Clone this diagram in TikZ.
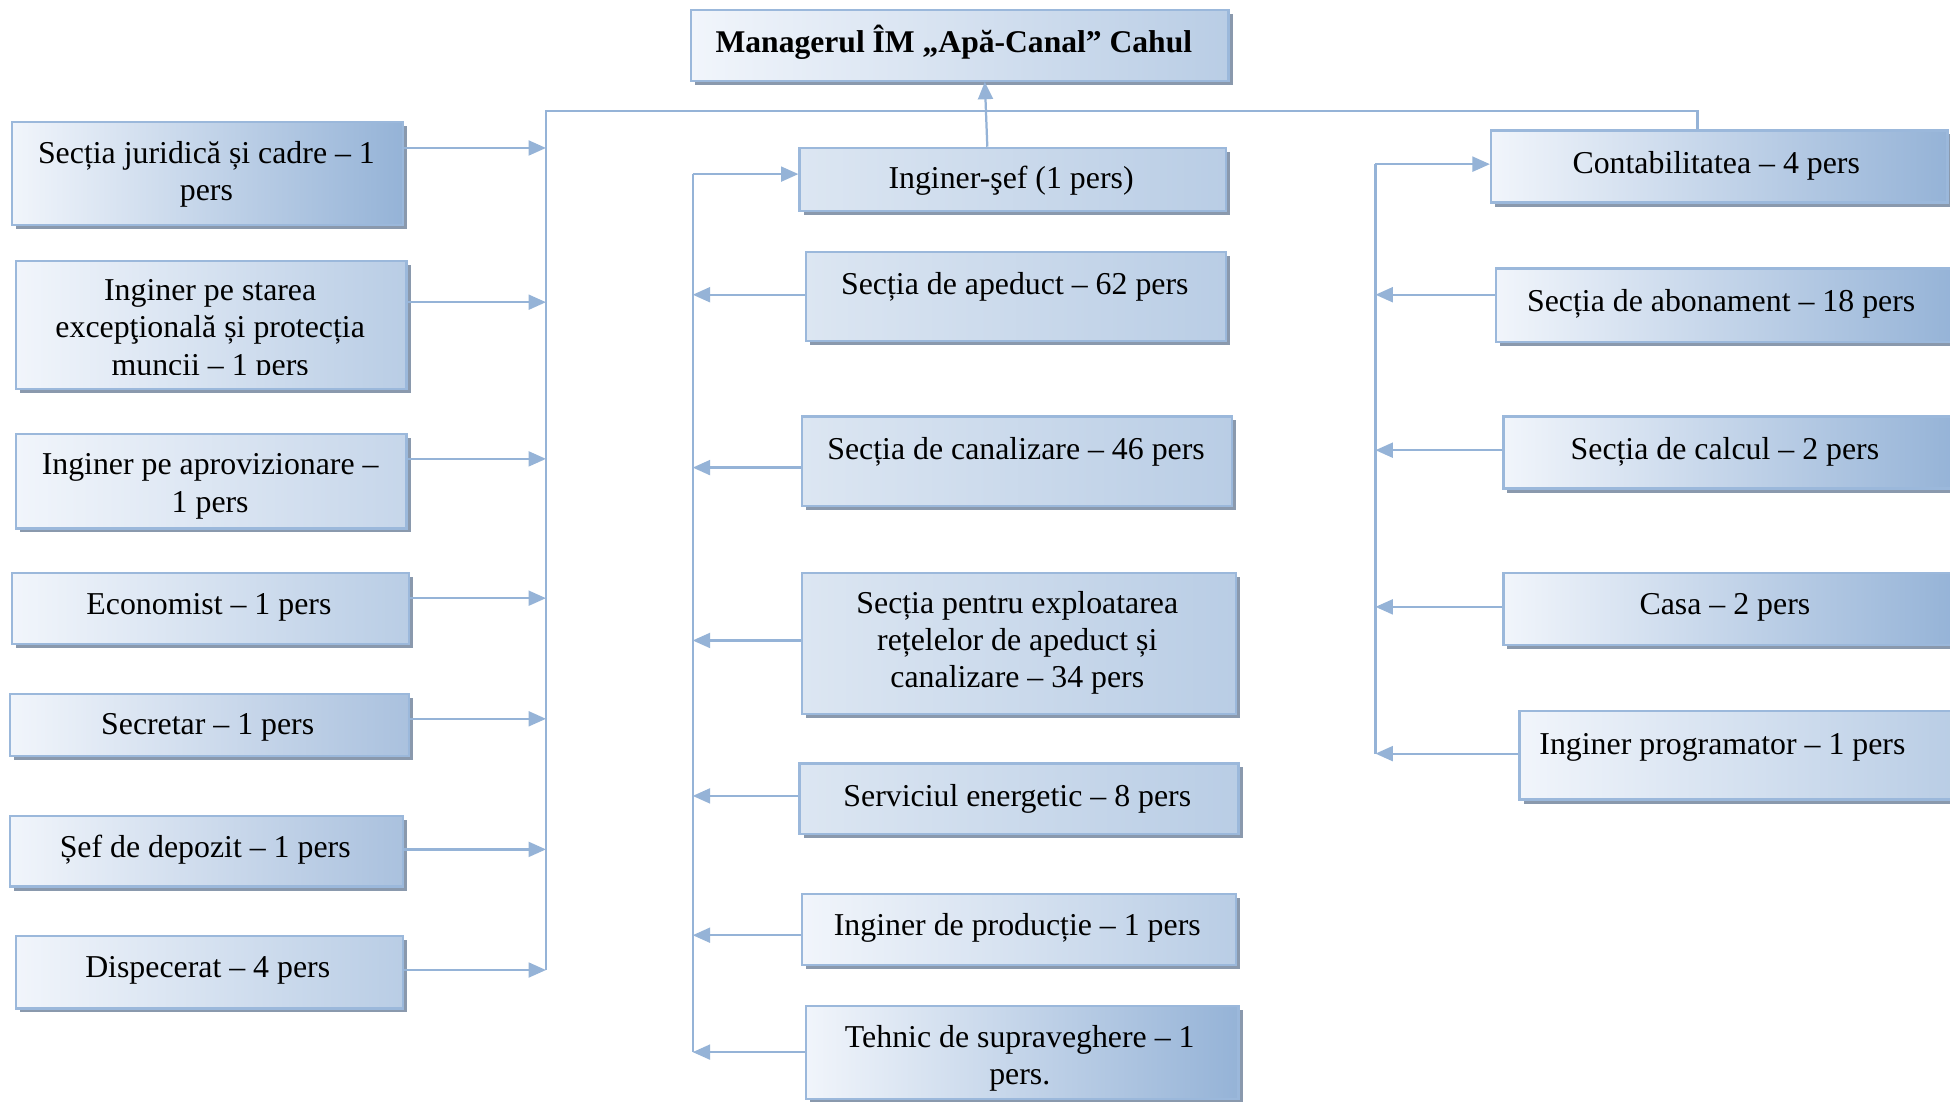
\documentclass[tikz,border=0pt]{standalone}
\usepackage{fontspec}
\setmainfont{Liberation Serif}
\usetikzlibrary{arrows.meta,shadows}
\definecolor{connc}{RGB}{149,179,215}
\definecolor{bordc}{RGB}{155,184,219}
\definecolor{shadc}{RGB}{138,153,173}
\definecolor{boxL}{RGB}{241,245,251}
\definecolor{cD}{RGB}{149,179,215}
\definecolor{cM}{RGB}{170,193,222}
\definecolor{cL}{RGB}{185,205,229}
\definecolor{cLL}{RGB}{198,214,234}
\definecolor{mL}{RGB}{220,230,242}
\newcommand{\obox}[6]{\node[#6, anchor=north west, inner sep=0pt, minimum width={(#4-#2)*0.5pt}, minimum height={(#5-#3)*0.5pt}] (#1) at (#2,#3) {};}
\begin{document}
\begin{tikzpicture}[x=0.5pt,y=-0.5pt,
  conn/.style={draw=connc, line width=0.9pt},
  arr/.style={conn, -{Triangle[length=7pt,width=6pt]}},
  obx/.style={draw=bordc, line width=0.9pt, left color=boxL, right color=#1,
    general shadow={fill=shadc, draw=none, shadow xshift=1.6pt, shadow yshift=-1.6pt}},
  obx/.default=cL,
  txt/.style={inner sep=0pt, align=center, font=\fontsize{12.8}{15}\selectfont},
  ttl/.style={inner sep=0pt, align=center, font=\fontsize{12.7}{15}\selectfont\bfseries}]
\fill[white] (0,0) rectangle (1568,886);
\useasboundingbox (0,0) rectangle (1568,886);

% manager
\obox{MG}{555}{7}{987}{64}{obx=cL}
\node[ttl] (tMG) at (767,34) {Managerul ÎM „Apă-Canal” Cahul};

% left column
\obox{L1}{9}{97}{323}{180}{obx=cD}
\obox{L2}{12}{209}{326}{312}{obx=cL}
\obox{L3}{12}{348}{326}{424}{obx=cLL}
\obox{L4}{9}{460}{328}{517}{obx=cL}
\obox{L5}{7}{557}{328}{607}{obx=cM}
\obox{L6}{7}{655}{323}{712}{obx=cM}
\obox{L7}{12}{752}{323}{810}{obx=cL}
\node[txt] (t1) at (166,140) {Secția juridică și cadre – 1\\pers};
\begin{scope}
\clip (12,209) rectangle (326,301);
\node[txt] (t2) at (169,266) {Inginer pe starea\\excepţională și protecția\\muncii – 1 pers};
\end{scope}
\node[txt] (t3) at (169,391) {Inginer pe aprovizionare –\\1 pers};
\node[txt] (t4) at (168,488) {Economist – 1 pers};
\node[txt] (t5) at (167,585) {Secretar – 1 pers};
\node[txt] (t6) at (165,683) {Șef de depozit – 1 pers};
\node[txt] (t7) at (167,780) {Dispecerat – 4 pers};

% middle column
\obox{IS}{642}{118}{985}{169}{obx=cL, left color=mL}
\obox{M2}{647}{202}{985}{273}{obx=cL, left color=mL}
\obox{M3}{644}{334}{990}{406}{obx=cL, left color=mL}
\obox{M4}{644}{460}{993}{573}{obx=cL, left color=mL}
\obox{M5}{642}{613}{995}{670}{obx=cL, left color=mL}
\obox{M6}{644}{718}{993}{775}{obx=cL}
\obox{M7}{647}{808}{995}{883}{obx=cD}
\node[txt] (tIS) at (813,145) {Inginer-şef (1 pers)};
\node[txt] (tM2) at (816,231) {Secția de apeduct – 62 pers};
\node[txt] (tM3) at (817,363) {Secția de canalizare – 46 pers};
\node[txt] (tM4) at (818,517) {Secția pentru exploatarea\\rețelelor de apeduct și\\canalizare – 34 pers};
\node[txt] (tM5) at (818,642) {Serviciul energetic – 8 pers};
\node[txt] (tM6) at (818,746) {Inginer de producție – 1 pers};
\node[txt] (tM7) at (820,851) {Tehnic de supraveghere – 1\\pers.};

% right column
\obox{R1}{1198}{104}{1565}{162}{obx=cD}
\obox{R2}{1202}{215}{1572}{274}{obx=cD}
\obox{R3}{1208}{334}{1572}{392}{obx=cD}
\obox{R4}{1208}{460}{1572}{518}{obx=cD}
\obox{R5}{1221}{571}{1572}{642}{obx=cL}
\node[txt] (tR1) at (1380,133) {Contabilitatea – 4 pers};
\node[txt] (tR2) at (1384,244) {Secția de abonament – 18 pers};
\node[txt] (tR3) at (1387,363) {Secția de calcul – 2 pers};
\node[txt] (tR4) at (1387,488) {Casa – 2 pers};
\node[txt] (tR5) at (1385,601) {Inginer programator – 1 pers};

% top bus and left spine
\coordinate (lt) at (439,89);
\coordinate (rt) at (1365,89);
\coordinate (lb) at (439,780);
\draw[conn] (R1.north -| rt) -- (rt) -- (lt) -- (lb);
\draw[arr] ([xshift=-10.25pt]IS.north) -- ([xshift=10pt]MG.south);

\coordinate (la1) at (439,119);
\coordinate (la2) at (439,243);
\coordinate (la3) at (439,369);
\coordinate (la4) at (439,481);
\coordinate (la5) at (439,578);
\coordinate (la6) at (439,683);
\coordinate (la7) at (439,780);
\draw[arr] (L1.east |- la1) -- (la1);
\draw[arr] (L2.east |- la2) -- (la2);
\draw[arr] (L3.east |- la3) -- (la3);
\draw[arr] (L4.east |- la4) -- (la4);
\draw[arr] (L5.east |- la5) -- (la5);
\draw[arr] (L6.east |- la6) -- (la6);
\draw[arr] (L7.east |- la7) -- (la7);

% middle spine
\coordinate (ms) at (557,140);
\coordinate (mb) at (557,846);
\draw[conn] (ms) -- (mb);
\draw[arr] (ms) -- (IS.west |- ms);
\coordinate (ma2) at (557,237);
\coordinate (ma3) at (557,376);
\coordinate (ma4) at (557,515);
\coordinate (ma5) at (557,640);
\coordinate (ma6) at (557,752);
\coordinate (ma7) at (557,846);
\draw[arr] (M2.west |- ma2) -- (ma2);
\draw[arr] (M3.west |- ma3) -- (ma3);
\draw[arr] (M4.west |- ma4) -- (ma4);
\draw[arr] (M5.west |- ma5) -- (ma5);
\draw[arr] (M6.west |- ma6) -- (ma6);
\draw[arr] (M7.west |- ma7) -- (ma7);

% right spine
\coordinate (rs) at (1106,132);
\coordinate (rb) at (1106,606);
\draw[conn] (rs) -- (rb);
\draw[arr] (rs) -- (R1.west |- rs);
\coordinate (ra2) at (1106,237);
\coordinate (ra3) at (1106,362);
\coordinate (ra4) at (1106,488);
\coordinate (ra5) at (1106,606);
\draw[arr] (R2.west |- ra2) -- (ra2);
\draw[arr] (R3.west |- ra3) -- (ra3);
\draw[arr] (R4.west |- ra4) -- (ra4);
\draw[arr] (R5.west |- ra5) -- (ra5);
\end{tikzpicture}
\end{document}
